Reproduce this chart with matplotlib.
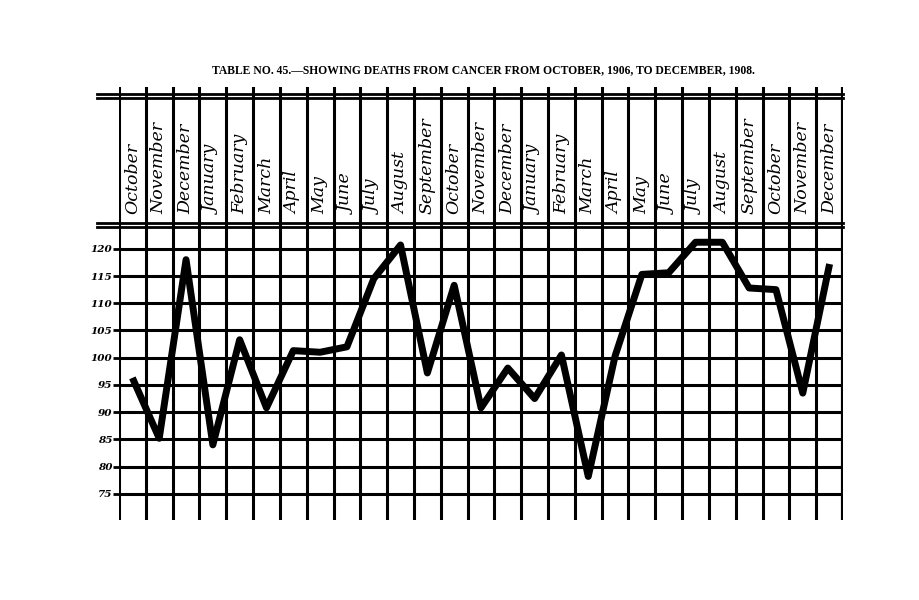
import matplotlib
matplotlib.use('Agg')
import matplotlib.pyplot as plt
import numpy as np

# Monthly deaths from cancer, Oct 1906 - Dec 1908
months = ['October', 'November', 'December',
          'January', 'February', 'March', 'April', 'May', 'June', 'July',
          'August', 'September', 'October', 'November', 'December',
          'January', 'February', 'March', 'April', 'May', 'June', 'July',
          'August', 'September', 'October', 'November', 'December']
deaths = [96.3, 85.2, 118.0,
          84.0, 103.3, 90.8, 101.3, 101.0, 102.0, 114.5,
          120.7, 97.2, 113.3, 90.8, 98.1,
          92.5, 100.5, 78.2, 100.3, 115.3, 115.6, 121.2,
          121.2, 112.8, 112.5, 93.5, 117.2]
y_ticks = [75, 80, 85, 90, 95, 100, 105, 110, 115, 120]

title = 'TABLE NO. 45.\u2014SHOWING DEATHS FROM CANCER FROM OCTOBER, 1906, TO DECEMBER, 1908.'

n = len(months)
x = np.arange(n) + 0.5

fig = plt.figure(figsize=(9.2, 6), dpi=100)
fig.patch.set_facecolor('white')

left = 119 / 920
width = (843 - 119) / 920

# main grid with the curve
ax = fig.add_axes([left, 1 - 520 / 600, width, 293 / 600])
ax.set_xlim(0, n)
ax.set_ylim(70.2, 124.0)
for s in ax.spines.values():
    s.set_visible(False)

for i in range(n + 1):
    ax.axvline(i, color='black', lw=3.0 if i == n else 2.2, zorder=1)
ax.hlines(y_ticks, 0, n, color='black', lw=2.2, zorder=1)

ax.plot(x, deaths, color='black', lw=5.0, solid_joinstyle='round',
        solid_capstyle='butt', zorder=3)

ax.set_xticks([])
ax.set_yticks(y_ticks)
ax.set_yticklabels([str(v) for v in y_ticks], fontstyle='italic',
                   family='DejaVu Serif', fontsize=7.5, fontweight='bold')
ax.tick_params(axis='y', length=4, width=2, pad=1, color='black')

# header with month names
hx = fig.add_axes([left, 1 - 227 / 600, width, 140 / 600])
hx.set_xlim(0, n)
hx.set_ylim(0, 1)
hx.axis('off')
for i in range(n + 1):
    hx.axvline(i, color='black', lw=3.0 if i == n else 2.2)
x0 = -(119 - 97) / (843 - 119)
for yy in [0.0, 0.03, 0.921, 0.95]:
    hx.plot([x0, 1], [yy, yy], transform=hx.transAxes, color='black',
            lw=2.0, clip_on=False)

for xi, m in zip(x, months):
    hx.text(xi, 0.09, m, rotation=90, ha='center', va='bottom',
            family='DejaVu Serif', fontstyle='italic', fontsize=12.5)

fig.text(483 / 920, 1 - 70 / 600, title, ha='center', va='center',
         family='Liberation Serif', fontweight='bold', fontsize=8.4)

fig.savefig('out.png', dpi=100, facecolor='white')
